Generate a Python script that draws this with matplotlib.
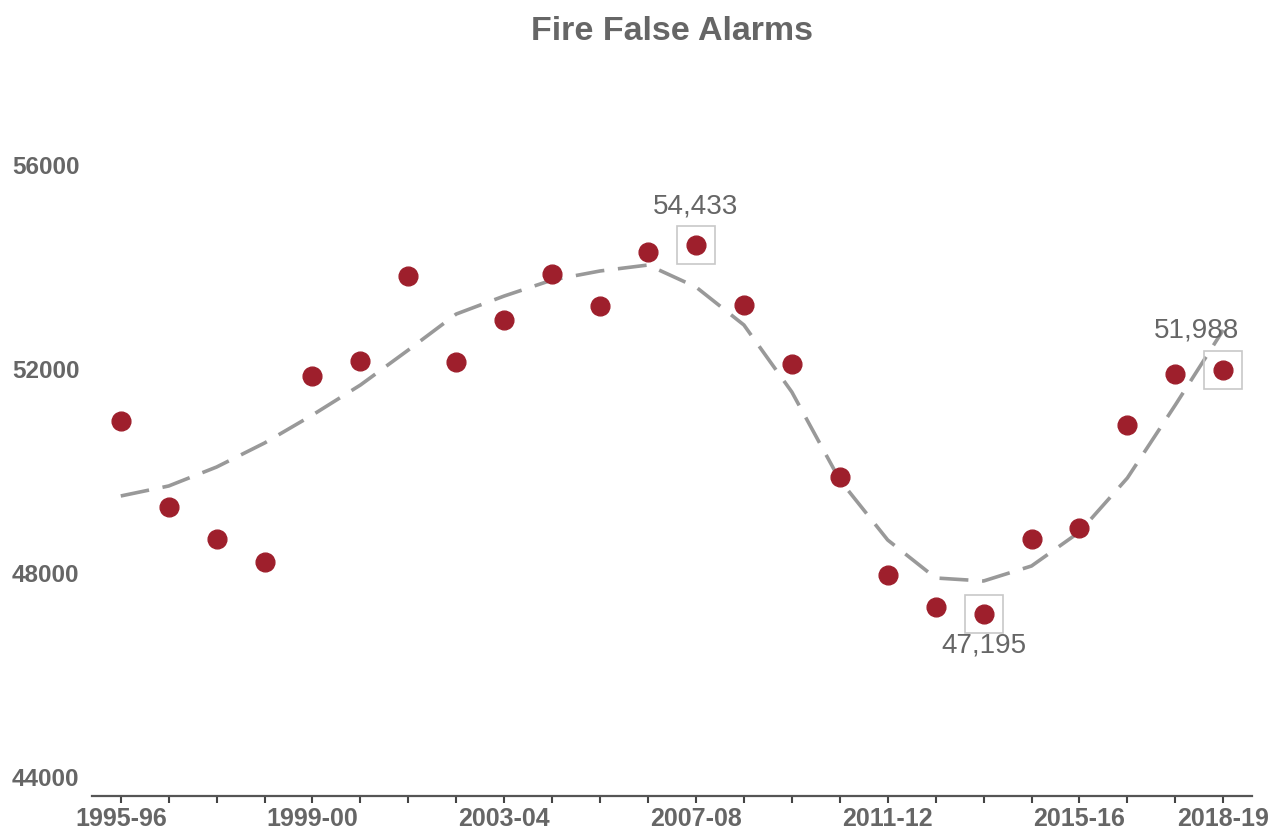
import matplotlib
matplotlib.use('Agg')
import matplotlib.pyplot as plt
import numpy as np

plt.rcParams['font.family'] = ['Liberation Sans', 'DejaVu Sans']

GREY_TEXT = '#666666'
DOT_RED = '#9e1f2c'

years = ['1995-96', '1996-97', '1997-98', '1998-99', '1999-00', '2000-01',
         '2001-02', '2002-03', '2003-04', '2004-05', '2005-06', '2006-07',
         '2007-08', '2008-09', '2009-10', '2010-11', '2011-12', '2012-13',
         '2013-14', '2014-15', '2015-16', '2016-17', '2017-18', '2018-19']

alarms = [50980, 49294, 48667, 48216, 51863, 52157, 53824, 52137, 52961, 53863,
          53235, 54294, 54433, 53255, 52098, 49882, 47961, 47333, 47195, 48667,
          48882, 50902, 51902, 51988]

trend = [49510, 49706, 50078, 50549, 51098, 51686, 52373, 53078, 53431, 53745,
         53922, 54039, 53608, 52863, 51549, 49824, 48647, 47902, 47843, 48137,
         48804, 49863, 51294, 52765]

shown_labels = ['1995-96', '1999-00', '2003-04', '2007-08', '2011-12', '2015-16', '2018-19']

# highlighted points: (index, text offset in points)
highlights = [(12, (0, 28)), (18, (0, -23)), (23, (-19, 28))]

fig = plt.figure(figsize=(12.68, 8.3), dpi=100)
ax = fig.add_axes([92/1268, 34/830, 1160/1268, 682/830])

x = np.arange(len(years))

ax.plot(x, trend, color='#999999', linewidth=2.6, dashes=(8, 3.8), zorder=2)
ax.plot(x, alarms, linestyle='none', marker='o', markersize=13.5,
        color=DOT_RED, zorder=3)

for i, off in highlights:
    ax.plot(x[i], alarms[i], linestyle='none', marker='s', markersize=28,
            markerfacecolor='none', markeredgecolor='#c8c8c8',
            markeredgewidth=1.2, zorder=4)
    ax.annotate(f'{alarms[i]:,}', (x[i], alarms[i]), xytext=off,
                textcoords='offset points', ha='center', va='center',
                fontsize=20, color=GREY_TEXT, zorder=5)

ax.set_xlim(-0.6, 23.6)
ax.set_ylim(43627, 57000)

ax.set_xticks(x)
ax.set_xticklabels([y if y in shown_labels else '' for y in years])
ax.set_yticks([44000, 48000, 52000, 56000])

for s in ['top', 'right', 'left']:
    ax.spines[s].set_visible(False)
ax.spines['bottom'].set_color('#555555')
ax.spines['bottom'].set_linewidth(1.6)

ax.tick_params(axis='x', length=5, width=1.5, color='#444444', pad=3,
               labelsize=18, labelcolor=GREY_TEXT)
ax.tick_params(axis='y', length=0, pad=9, labelsize=17.5, labelcolor=GREY_TEXT)
for lab in ax.get_xticklabels() + ax.get_yticklabels():
    lab.set_fontweight('bold')

fig.text(672/1268, 1 - 40/830, 'Fire False Alarms', ha='center', va='baseline',
         fontsize=24.5, fontweight='bold', color=GREY_TEXT)

fig.savefig('out.png', dpi=100)
